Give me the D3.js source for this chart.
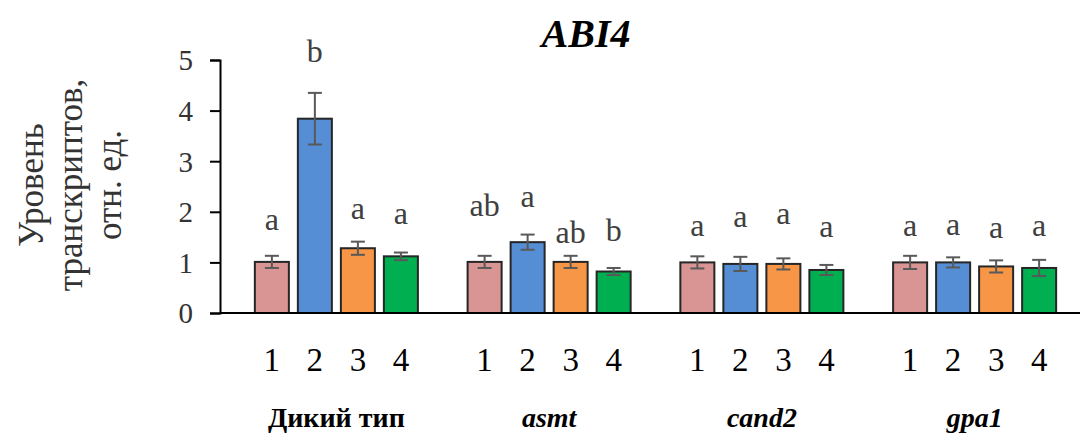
<!DOCTYPE html>
<html>
<head>
<meta charset="utf-8">
<script src="https://cdn.jsdelivr.net/npm/d3@7"></script>
<style>
  html, body { margin: 0; padding: 0; background: #fff; }
  svg { display: block; }
</style>
</head>
<body>
<svg id="chart" width="1080" height="434"></svg>
<script>
// Genotypes (x-axis groups) and treatment numbers within each group
const genotypes = ["Дикий тип", "asmt", "cand2", "gpa1"];
const treatments = ["1", "2", "3", "4"];

// Mean relative transcript level, one array per genotype (treatments 1–4)
const wildType = [1.01, 3.84, 1.28, 1.12];
const asmt     = [1.01, 1.40, 1.01, 0.82];
const cand2    = [1.00, 0.97, 0.97, 0.85];
const gpa1     = [1.00, 1.00, 0.92, 0.89];

// Error (± half-length of the error bar)
const errWildType = [0.12, 0.51, 0.13, 0.075];
const errAsmt     = [0.12, 0.15, 0.12, 0.07];
const errCand2    = [0.12, 0.14, 0.11, 0.10];
const errGpa1     = [0.13, 0.10, 0.12, 0.16];

// Significance letters
const lettersWildType = ["a", "b", "a", "a"];
const lettersAsmt     = ["ab", "a", "ab", "b"];
const lettersCand2    = ["a", "a", "a", "a"];
const lettersGpa1     = ["a", "a", "a", "a"];

const yTicks = [0, 1, 2, 3, 4, 5];

const means = [wildType, asmt, cand2, gpa1];
const errs = [errWildType, errAsmt, errCand2, errGpa1];
const letters = [lettersWildType, lettersAsmt, lettersCand2, lettersGpa1];
const colors = ["#D99594", "#558ED5", "#F79646", "#00B050"];
const italicGroup = [false, true, true, true];
const SERIF = "Liberation Serif";

// Gap (px) between the top of each error bar and the baseline of its letter
const letterGap = [
  [26, 31, 23, 29],
  [40, 28, 13, 27],
  [20, 30, 34, 28],
  [20, 22, 22, 24]
];

const svg = d3.select("#chart");

const y = d3.scaleLinear().domain([0, 5]).range([313, 60]);
const x0 = d3.scaleBand().domain(genotypes).range([230, 1081]).paddingInner(0).paddingOuter(0);
const x1 = d3.scaleBand().domain(treatments).range([0, x0.bandwidth()])
  .paddingInner(0.209).paddingOuter(0.578);

const rows = [];
genotypes.forEach((g, gi) => {
  treatments.forEach((t, ti) => {
    rows.push({ g, gi, t, ti, v: means[gi][ti], e: errs[gi][ti], l: letters[gi][ti] });
  });
});

// Title
svg.append("text")
  .attr("x", 586).attr("y", 47)
  .attr("text-anchor", "middle")
  .attr("font-family", SERIF)
  .attr("font-size", 40).attr("font-weight", "bold").attr("font-style", "italic")
  .attr("fill", "#000")
  .text("ABI4");

// Y axis
const yAxis = svg.append("g")
  .attr("transform", "translate(220,0)")
  .call(d3.axisLeft(y).tickValues(yTicks).tickFormat(d3.format("d")).tickSizeOuter(0).tickSize(10).tickPadding(17));
yAxis.attr("font-family", SERIF).attr("font-size", 29);
yAxis.select(".domain").attr("stroke", "#000").attr("stroke-width", 2);
yAxis.selectAll(".tick line").attr("stroke", "#000").attr("stroke-width", 2);
yAxis.selectAll(".tick text").attr("fill", "#333").attr("dy", "0.34em");

// Y axis title (three lines)
const yTitle = ["Уровень", "транскриптов,", "отн. ед."];
svg.append("g").selectAll("text").data(yTitle).join("text")
  .attr("transform", (d, i) => `translate(${43 + i * 39},185) rotate(-90)`)
  .attr("text-anchor", "middle")
  .attr("font-family", SERIF)
  .attr("font-size", 35)
  .attr("fill", "#333")
  .text(d => d);

// Bars
const bars = svg.append("g");
bars.selectAll("rect").data(rows).join("rect")
  .attr("x", d => x0(d.g) + x1(d.t))
  .attr("y", d => y(d.v))
  .attr("width", x1.bandwidth())
  .attr("height", d => y(0) - y(d.v))
  .attr("fill", d => colors[d.ti])
  .attr("stroke", "#262626")
  .attr("stroke-width", 2);

// X axis line
svg.append("line")
  .attr("x1", 220).attr("x2", 1080)
  .attr("y1", y(0)).attr("y2", y(0))
  .attr("stroke", "#000").attr("stroke-width", 2);

// Error bars
const capW = 14;
const eb = svg.append("g").attr("stroke", "#595959").attr("stroke-width", 2);
rows.forEach(d => {
  const cx = x0(d.g) + x1(d.t) + x1.bandwidth() / 2;
  const top = y(d.v + d.e), bot = y(d.v - d.e);
  eb.append("line").attr("x1", cx).attr("x2", cx).attr("y1", top).attr("y2", bot);
  eb.append("line").attr("x1", cx - capW / 2).attr("x2", cx + capW / 2).attr("y1", top).attr("y2", top);
  eb.append("line").attr("x1", cx - capW / 2).attr("x2", cx + capW / 2).attr("y1", bot).attr("y2", bot);
});

// Significance letters
svg.append("g").selectAll("text").data(rows).join("text")
  .attr("x", d => x0(d.g) + x1(d.t) + x1.bandwidth() / 2)
  .attr("y", d => y(d.v + d.e) - letterGap[d.gi][d.ti])
  .attr("text-anchor", "middle")
  .attr("font-family", SERIF)
  .attr("font-size", 32)
  .attr("fill", "#404040")
  .text(d => d.l);

// Treatment numbers under each bar
svg.append("g").selectAll("text").data(rows).join("text")
  .attr("x", d => x0(d.g) + x1(d.t) + x1.bandwidth() / 2)
  .attr("y", 371)
  .attr("text-anchor", "middle")
  .attr("font-family", SERIF)
  .attr("font-size", 33)
  .attr("fill", "#000")
  .text(d => d.t);

// Genotype labels
svg.append("g").selectAll("text").data(genotypes).join("text")
  .attr("x", d => x0(d) + x0.bandwidth() / 2)
  .attr("y", 427)
  .attr("text-anchor", "middle")
  .attr("font-family", SERIF)
  .attr("font-size", 28).attr("font-weight", "bold")
  .attr("font-style", (d, i) => italicGroup[i] ? "italic" : "normal")
  .attr("fill", "#000")
  .text(d => d);
</script>
</body>
</html>
